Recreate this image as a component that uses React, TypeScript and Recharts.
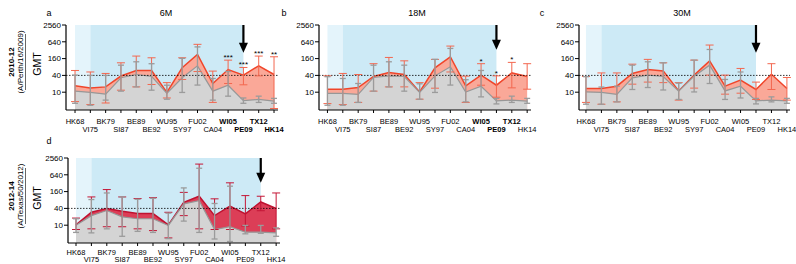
import React from "react";
import {
  ComposedChart,
  Area,
  Line,
  XAxis,
  YAxis,
  ErrorBar,
  ReferenceArea,
  ReferenceLine,
  ReferenceDot,
  LabelList,
} from "recharts";

const strains = ["HK68", "VI75", "BK79", "SI87", "BE89", "BE92", "WU95", "SY97", "FU02", "CA04", "WI05", "PE09", "TX12", "HK14"];
const yTicks = [10, 40, 160, 640, 2560];

// 2010-12 cohort, 6M
const postA = [17, 14, 15.5, 38, 60, 60, 9.8, 75, 226, 20.5, 65, 41, 88, 43];
const postLoA = [4.6, 3.6, 4.1, 11.8, 15.5, 18.9, 6.2, 28.6, 55, 4.3, 20.5, 18.4, 38.5, 2.6];
const postHiA = [60, 53, 47, 113, 197, 171, 22, 171, 519, 57, 141, 77, 197, 186];
const preA = [10.9, 9.8, 8.5, 33, 43, 37, 9.1, 33, 88, 10.9, 17.8, 5.0, 5.5, 4.75];
const preLoA = [4, 3.4, 5.2, 10.9, 15.5, 11.8, 5.6, 9.8, 18, 5.2, 7.2, 4.0, 4.3, 4.0];
const preHiA = [41, 40, 40, 93, 123, 105, 17.8, 163, 420, 31, 55, 6.2, 7.2, 6];
const sigA = ["", "", "", "", "", "", "", "", "", "", "***", "***", "***", "**"];

// 2010-12 cohort, 18M
const postB = [12.8, 12.8, 14.7, 36.6, 51, 43, 10.2, 75, 186, 16.9, 41, 17.8, 49, 36.6];
const postLoB = [3.9, 3.6, 4.3, 10.9, 15.5, 15.5, 5.6, 13.9, 53, 4.3, 17.8, 6.6, 14.3, 12.8];
const postHiB = [38.5, 47, 43, 105, 176, 133, 22, 150, 450, 37.6, 105, 38.5, 117, 105];
const preB = [9.1, 9.1, 8.3, 33.7, 38.5, 36.6, 9.8, 38.5, 81, 10.2, 16.4, 4.9, 5.2, 4.75];
const preLoB = [3.4, 3.4, 4.3, 10.9, 15.5, 10.9, 5.6, 9.8, 18, 4.5, 6.8, 3.8, 4.3, 4];
const preHiB = [36, 31, 20.5, 93, 123, 93, 20, 150, 370, 28, 60, 6, 7.2, 6];
const sigB = ["", "", "", "", "", "", "", "", "", "", "*", "*", "*", ""];

// 2010-12 cohort, 30M
const postC = [13.6, 13.6, 16.4, 47, 65, 58, 11.1, 41, 133, 16.4, 27, 12.5, 44, 13.6];
const postLoC = [4.3, 3.7, 4.5, 19.4, 23, 22, 5.2, 14, 41, 8.5, 9.2, 5.5, 12.5, 5.2];
const postHiC = [36.6, 49, 49, 101, 150, 113, 22, 141, 490, 41, 71, 23, 105, 33.7];
const preC = [10.2, 9.8, 8.3, 32.7, 41, 36.6, 10.9, 37.6, 93, 11.1, 16.4, 4.9, 5.2, 4.9];
const preLoC = [3.7, 3.7, 4.5, 12.5, 14.7, 12, 5.5, 10.2, 20.5, 5.5, 6.2, 3.8, 4.5, 4];
const preHiC = [36, 15.3, 16.4, 93, 123, 113, 21, 141, 340, 28.6, 53, 6, 6.8, 6];
const sigC = ["", "", "", "", "", "", "", "", "", "", "", "", "", ""];

// 2012-14 cohort
const postD = [10.2, 29, 40, 31.6, 26, 26, 10.3, 66, 109, 22, 48, 25.6, 68, 39.5];
const postLoD = [7, 7.4, 8.8, 8.8, 7.4, 6.4, 3.5, 22, 7.4, 7, 7, 9.3, 33, 7.4];
const postHiD = [18, 103, 189, 103, 90, 97, 29, 150, 1550, 88, 330, 115, 109, 143];
const preD = [10, 22, 33.5, 20, 17, 17, 9.8, 58, 76, 7.0, 8.8, 5.6, 5.6, 5.3];
const preLoD = [5.5, 5.3, 7.4, 4, 6, 5.5, 3.3, 14, 5.5, 3.2, 2.6, 4.9, 5.1, 4];
const preHiD = [17, 83, 143, 103, 85, 92, 27, 217, 1100, 60, 250, 9.8, 9.8, 8];
const sigD = ["", "", "", "", "", "", "", "", "", "", "", "", "", ""];

const FONT = "'Liberation Sans', Arial, Helvetica, sans-serif";

type Row = {
  i: number;
  post: number;
  pre: number;
  errPost: [number, number];
  errPre: [number, number];
  hiPost: number;
  sig: string | null;
};

function makeRows(
  post: number[], postLo: number[], postHi: number[],
  pre: number[], preLo: number[], preHi: number[], sig: string[]
): Row[] {
  return strains.map((_, i) => ({
    i,
    post: post[i],
    pre: pre[i],
    errPost: [post[i] - postLo[i], postHi[i] - post[i]],
    errPre: [pre[i] - preLo[i], preHi[i] - pre[i]],
    hiPost: postHi[i],
    sig: sig[i] ? sig[i] : null,
  }));
}

type PanelProps = {
  rows: Row[];
  left: number;
  top: number;
  width: number;
  height: number;
  margin: { top: number; right: number; bottom: number; left: number };
  xDomain: [number, number];
  xAxisHeight: number;
  row1: number;
  row2: number;
  bold: string[];
  blueEnd: number;
  arrowAt: number;
  arrowTip: number;
  fill: string;
  line: string;
  err: string;
};

function StrainTick(props: any) {
  const { x, y, payload, bold, row1, row2 } = props;
  const i = payload.value as number;
  const name = strains[i];
  return (
    <text
      x={x}
      y={y + (i % 2 ? row2 : row1)}
      textAnchor="middle"
      fontSize={7.5}
      fontFamily={FONT}
      fontWeight={bold.includes(name) ? 700 : 400}
      fill="#000"
    >
      {name}
    </text>
  );
}

function ArrowHead(props: any) {
  const { cx, cy } = props;
  return <path d={`M${cx - 4.5},${cy - 10} L${cx + 4.5},${cy - 10} L${cx},${cy} Z`} fill="#000" />;
}

function Panel(p: PanelProps) {
  return (
    <div style={{ position: "absolute", left: p.left, top: p.top }}>
      <ComposedChart width={p.width} height={p.height} data={p.rows} margin={p.margin}>
        <ReferenceArea x1={0} x2={1} fill="#e4f4fb" fillOpacity={1} stroke="none" zIndex={-20} />
        <ReferenceArea x1={1} x2={p.blueEnd} fill="#cdeaf6" fillOpacity={1} stroke="none" zIndex={-20} />
        <XAxis
          type="number"
          dataKey="i"
          domain={p.xDomain}
          allowDataOverflow
          ticks={strains.map((_, i) => i)}
          interval={0}
          height={p.xAxisHeight}
          tickSize={3}
          tickMargin={0}
          axisLine={{ stroke: "#000", strokeWidth: 1.2 }}
          tickLine={{ stroke: "#000" }}
          tick={(t: any) => <StrainTick {...t} bold={p.bold} row1={p.row1} row2={p.row2} />}
        />
        <YAxis
          scale="log"
          domain={[2.3, 2560]}
          allowDataOverflow
          ticks={yTicks}
          interval={0}
          width={40}
          tickSize={4}
          tickMargin={1}
          axisLine={{ stroke: "#000", strokeWidth: 1.2 }}
          tickLine={{ stroke: "#000" }}
          tick={{ fontSize: 8, fill: "#000", fontFamily: FONT }}
        />
        <Area
          type="linear"
          dataKey="post"
          fill={p.fill}
          fillOpacity={1}
          stroke={p.line}
          strokeWidth={1.5}
          isAnimationActive={false}
          dot={false}
          activeDot={false}
        />
        <Area
          type="linear"
          dataKey="pre"
          fill="#d4d4d4"
          fillOpacity={1}
          stroke="#979797"
          strokeWidth={1.2}
          isAnimationActive={false}
          dot={false}
          activeDot={false}
        />
        <ReferenceLine y={40} stroke="#000" strokeWidth={0.8} strokeDasharray="1.5 1.5" />
        <Line dataKey="post" stroke="none" dot={false} activeDot={false} isAnimationActive={false}>
          <ErrorBar dataKey="errPost" width={4} stroke={p.err} strokeWidth={1} direction="y" />
        </Line>
        <Line dataKey="pre" stroke="none" dot={false} activeDot={false} isAnimationActive={false}>
          <ErrorBar dataKey="errPre" width={3} stroke="#9b9b9b" strokeWidth={1.3} direction="y" />
        </Line>
        <Line dataKey="hiPost" stroke="none" dot={false} activeDot={false} isAnimationActive={false}>
          <LabelList dataKey="sig" position="top" offset={0} fontSize={8} fill="#000" fontFamily={FONT} />
        </Line>
        <ReferenceLine
          segment={[
            { x: p.arrowAt, y: 2560 },
            { x: p.arrowAt, y: p.arrowTip * 1.8 },
          ]}
          stroke="#000"
          strokeWidth={2.2}
          zIndex={2500}
        />
        <ReferenceDot x={p.arrowAt} y={p.arrowTip} shape={ArrowHead} zIndex={2500} />
      </ComposedChart>
    </div>
  );
}

const redFill = "#faa898";
const redLine = "#f0462b";
const redErr = "#f3674f";
const crimsonFill = "#dc3e57";
const crimsonLine = "#bf1230";
const crimsonErr = "#c41636";

function SideLabel({ y, year, strain }: { y: number; year: string; strain: string }) {
  return (
    <g fontFamily={FONT} fill="#000">
      <text x={14} y={y} transform={`rotate(-90 14 ${y})`} textAnchor="middle" fontSize={8} fontWeight={700}>
        {year}
      </text>
      <text x={23} y={y} transform={`rotate(-90 23 ${y})`} textAnchor="middle" fontSize={8}>
        {strain}
      </text>
      <line x1={25.5} x2={25.5} y1={y - 28} y2={y + 28} stroke="#000" strokeWidth={0.6} />
      <text x={41} y={y + 2} transform={`rotate(-90 41 ${y + 2})`} textAnchor="middle" fontSize={10.5}>
        GMT
      </text>
    </g>
  );
}

export default function App() {
  const rowsA = makeRows(postA, postLoA, postHiA, preA, preLoA, preHiA, sigA);
  const rowsB = makeRows(postB, postLoB, postHiB, preB, preLoB, preHiB, sigB);
  const rowsC = makeRows(postC, postLoC, postHiC, preC, preLoC, preHiC, sigC);
  const rowsD = makeRows(postD, postLoD, postHiD, preD, preLoD, preHiD, sigD);

  return (
    <div style={{ position: "absolute", left: 0, top: 0, width: 796, height: 264, background: "#fff", overflow: "hidden" }}>
      <Panel
        rows={rowsA}
        left={0}
        top={0}
        width={290}
        height={136}
        margin={{ top: 25, right: 12, bottom: 2, left: 26 }}
        xDomain={[-0.59, 13.26]}
        xAxisHeight={24}
        row1={11}
        row2={19}
        bold={["WI05", "PE09", "TX12", "HK14"]}
        blueEnd={11}
        arrowAt={11}
        arrowTip={260}
        fill={redFill}
        line={redLine}
        err={redErr}
      />
      <Panel
        rows={rowsB}
        left={260}
        top={0}
        width={280}
        height={136}
        margin={{ top: 25, right: 9, bottom: 2, left: 19 }}
        xDomain={[-0.55, 13.25]}
        xAxisHeight={24}
        row1={11}
        row2={19}
        bold={["WI05", "PE09", "TX12"]}
        blueEnd={11}
        arrowAt={11}
        arrowTip={330}
        fill={redFill}
        line={redLine}
        err={redErr}
      />
      <Panel
        rows={rowsC}
        left={530}
        top={0}
        width={266}
        height={136}
        margin={{ top: 25, right: 6, bottom: 2, left: 9 }}
        xDomain={[-0.45, 13.2]}
        xAxisHeight={24}
        row1={11}
        row2={19}
        bold={[]}
        blueEnd={11}
        arrowAt={11}
        arrowTip={260}
        fill={redFill}
        line={redLine}
        err={redErr}
      />
      <Panel
        rows={rowsD}
        left={0}
        top={133}
        width={290}
        height={131}
        margin={{ top: 25, right: 10, bottom: 0, left: 28 }}
        xDomain={[-0.52, 13.25]}
        xAxisHeight={21}
        row1={9}
        row2={16}
        bold={[]}
        blueEnd={12}
        arrowAt={12}
        arrowTip={330}
        fill={crimsonFill}
        line={crimsonLine}
        err={crimsonErr}
      />
      <svg width={796} height={264} style={{ position: "absolute", left: 0, top: 0, pointerEvents: "none" }}>
        <g fontFamily={FONT} fill="#000">
          <text x={49} y={16} fontSize={9} textAnchor="middle">a</text>
          <text x={166} y={16} fontSize={9} textAnchor="middle">6M</text>
          <text x={284} y={16} fontSize={9} textAnchor="middle">b</text>
          <text x={417} y={16} fontSize={9} textAnchor="middle">18M</text>
          <text x={542} y={16} fontSize={9} textAnchor="middle">c</text>
          <text x={682} y={16} fontSize={9} textAnchor="middle">30M</text>
          <text x={49} y={144} fontSize={9} textAnchor="middle">d</text>
        </g>
        <SideLabel y={62} year="2010-12" strain="(A/Perth/16/2009)" />
        <SideLabel y={196} year="2012-14" strain="(A/Texas/50/2012)" />
      </svg>
    </div>
  );
}
